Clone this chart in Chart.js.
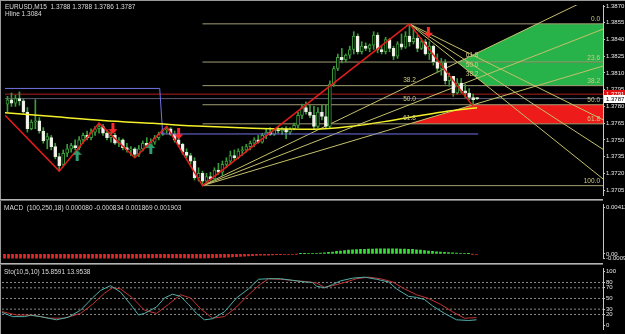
<!DOCTYPE html>
<html>
<head>
<meta charset="utf-8">
<script src="https://cdn.jsdelivr.net/npm/chart.js@4.4.0/dist/chart.umd.min.js"></script>
<style>
  body { margin: 0; background: #000; width: 625px; height: 334px; overflow: hidden; position: relative; }
  .pane { position: absolute; left: 0; width: 625px; }
  .txt { position: absolute; color: #dcdcdc; font: 6.5px "Liberation Sans", Arial, sans-serif; white-space: pre; }
  .sep { position: absolute; left: 0; width: 603px; height: 1px; }
</style>
</head>
<body>
<div class="pane" style="top:0;height:200px"><canvas id="price"></canvas></div>
<div class="pane" style="top:200px;height:63px"><canvas id="macd"></canvas></div>
<div class="pane" style="top:264px;height:70px"><canvas id="stoch"></canvas></div>

<div class="sep" style="top:0;width:625px;background:#9a9a9a"></div>
<div style="position:absolute;left:0;top:0;width:1px;height:334px;background:#9a9a9a"></div>
<div class="sep" style="top:199px;background:#b4b4b4"></div>
<div class="sep" style="top:200px;background:#6e6e6e"></div>
<div class="sep" style="top:263px;background:#b4b4b4"></div>
<div class="sep" style="top:264px;background:#6e6e6e"></div>

<div class="txt" style="left:5px;top:3px">EURUSD,M15  1.3788 1.3788 1.3786 1.3787</div>
<div class="txt" style="left:5px;top:10px">Hline 1.3084</div>
<div class="txt" style="left:4px;top:204px">MACD  (100,250,18) 0.000080 -0.000834 0.001869 0.001903</div>
<div class="txt" style="left:4px;top:268px">Sto(10,5,10) 15.8591 13.9538</div>

<script>
// ---- price pane data (M15 candles, oldest first) ----
const priceTicks = [1.3870, 1.3855, 1.3840, 1.3825, 1.3810, 1.3795, 1.3780, 1.3765, 1.3750, 1.3735, 1.3720, 1.3705];

const opens = [
  1.3782,1.3786,1.3783,1.3787,1.3785,1.3775,1.3760,1.3766,1.3767,1.3758,
  1.3750,1.3752,1.3744,1.3735,1.3728,1.3738,1.3742,1.3745,1.3743,1.3750,
  1.3754,1.3752,1.3757,1.3760,1.3762,1.3756,1.3752,1.3754,1.3747,1.3750,
  1.3743,1.3741,1.3742,1.3737,1.3742,1.3747,1.3745,1.3748,1.3752,1.3755,
  1.3759,1.3760,1.3755,1.3750,1.3746,1.3739,1.3736,1.3731,1.3716,1.3720,
  1.3713,1.3717,1.3715,1.3723,1.3721,1.3728,1.3731,1.3736,1.3734,1.3740,
  1.3741,1.3744,1.3747,1.3750,1.3748,1.3754,1.3757,1.3755,1.3759,1.3758,
  1.3760,1.3757,1.3760,1.3763,1.3772,1.3779,1.3775,1.3772,1.3762,1.3775,
  1.3771,1.3762,1.3800,1.3814,1.3824,1.3822,1.3826,1.3831,1.3843,1.3829,
  1.3834,1.3832,1.3835,1.3844,1.3831,1.3829,1.3840,1.3832,1.3825,1.3836,
  1.3833,1.3843,1.3838,1.3841,1.3832,1.3838,1.3827,1.3834,1.3820,1.3814,
  1.3819,1.3803,1.3807,1.3792,1.3801,1.3794,1.3792,1.3788,1.3788
];
const highs = [
  1.3789,1.3792,1.3790,1.3793,1.3787,1.3779,1.3768,1.3786,1.3770,1.3761,
  1.3756,1.3754,1.3747,1.3738,1.3741,1.3746,1.3747,1.3750,1.3753,1.3756,
  1.3758,1.3760,1.3762,1.3765,1.3764,1.3759,1.3757,1.3756,1.3752,1.3751,
  1.3747,1.3744,1.3743,1.3745,1.3749,1.3752,1.3751,1.3754,1.3757,1.3760,
  1.3762,1.3761,1.3758,1.3754,1.3747,1.3742,1.3738,1.3734,1.3725,1.3722,
  1.3720,1.3721,1.3725,1.3729,1.3731,1.3734,1.3740,1.3741,1.3742,1.3744,
  1.3746,1.3749,1.3752,1.3754,1.3756,1.3760,1.3761,1.3760,1.3762,1.3761,
  1.3762,1.3761,1.3765,1.3775,1.3782,1.3784,1.3781,1.3780,1.3779,1.3781,
  1.3781,1.3803,1.3816,1.3827,1.3832,1.3827,1.3834,1.3847,1.3845,1.3838,
  1.3837,1.3836,1.3847,1.3846,1.3834,1.3842,1.3841,1.3834,1.3838,1.3845,
  1.3847,1.3854,1.3849,1.3844,1.3841,1.3840,1.3838,1.3835,1.3827,1.3823,
  1.3822,1.3810,1.3807,1.3805,1.3805,1.3800,1.3796,1.3791,1.3788
];
const lows = [
  1.3775,1.3780,1.3780,1.3781,1.3774,1.3757,1.3759,1.3760,1.3756,1.3747,
  1.3742,1.3741,1.3733,1.3722,1.3727,1.3735,1.3739,1.3741,1.3741,1.3747,
  1.3750,1.3750,1.3754,1.3756,1.3754,1.3750,1.3748,1.3746,1.3744,1.3741,
  1.3739,1.3736,1.3734,1.3735,1.3740,1.3743,1.3742,1.3746,1.3750,1.3754,
  1.3756,1.3754,1.3748,1.3744,1.3737,1.3734,1.3728,1.3714,1.3713,1.3709,
  1.3711,1.3714,1.3714,1.3719,1.3718,1.3725,1.3728,1.3732,1.3733,1.3736,
  1.3739,1.3741,1.3744,1.3747,1.3747,1.3751,1.3754,1.3754,1.3756,1.3755,
  1.3751,1.3755,1.3759,1.3761,1.3769,1.3773,1.3770,1.3760,1.3761,1.3768,
  1.3760,1.3760,1.3798,1.3812,1.3819,1.3820,1.3823,1.3827,1.3827,1.3827,
  1.3830,1.3829,1.3831,1.3828,1.3827,1.3827,1.3829,1.3822,1.3823,1.3831,
  1.3832,1.3834,1.3836,1.3829,1.3831,1.3826,1.3822,1.3817,1.3810,1.3808,
  1.3800,1.3798,1.3789,1.3791,1.3792,1.3788,1.3786,1.3780,1.3786
];
const closes = [
  1.3786,1.3783,1.3787,1.3785,1.3775,1.3760,1.3766,1.3767,1.3758,1.3749,
  1.3753,1.3744,1.3735,1.3727,1.3738,1.3742,1.3745,1.3743,1.3750,1.3754,
  1.3752,1.3757,1.3760,1.3762,1.3756,1.3752,1.3754,1.3747,1.3750,1.3743,
  1.3741,1.3742,1.3737,1.3742,1.3747,1.3745,1.3748,1.3752,1.3755,1.3759,
  1.3760,1.3755,1.3750,1.3746,1.3739,1.3736,1.3731,1.3716,1.3720,1.3713,
  1.3717,1.3715,1.3723,1.3721,1.3728,1.3731,1.3736,1.3734,1.3740,1.3741,
  1.3744,1.3747,1.3750,1.3748,1.3754,1.3757,1.3755,1.3759,1.3758,1.3760,
  1.3757,1.3760,1.3763,1.3772,1.3779,1.3775,1.3772,1.3762,1.3775,1.3771,
  1.3762,1.3800,1.3814,1.3824,1.3822,1.3826,1.3831,1.3843,1.3829,1.3834,
  1.3832,1.3835,1.3844,1.3831,1.3829,1.3840,1.3832,1.3825,1.3836,1.3833,
  1.3843,1.3838,1.3841,1.3832,1.3838,1.3827,1.3834,1.3820,1.3814,1.3819,
  1.3803,1.3807,1.3792,1.3801,1.3794,1.3792,1.3788,1.3786,1.3787
];

// zigzag turning points [bar, price]
const zigzag = [[-0.6, 1.3772], [13, 1.3722], [23, 1.3765], [32, 1.3734], [40, 1.3762], [49, 1.3709], [101, 1.3854], [117, 1.3780]];
// slow moving average, sampled
const maLine = [[-1, 1.37744], [11.5, 1.37709], [24, 1.37674], [36.5, 1.37648], [49, 1.37622], [61.5, 1.37605],
  [77, 1.37596], [86.5, 1.37622], [96.5, 1.37674], [109.75, 1.37753], [118, 1.37787]];
// blue step line
const blueLine = [[-0.625, 1.37961], [38.25, 1.37961], [39, 1.37553], [118.25, 1.37553]];
const redHline = 1.3791;
const bidPrice = 1.3787;

// fibonacci anchors [bar, price]
const fibLow = [49, 1.3709];
const fibHigh = [101, 1.3854];
const fibEnd = [117, 1.3780];
const fibLevels = [0, 23.6, 38.2, 50, 61.8, 100];
const fanLevels = [38.2, 50, 61.8];

// signal arrows [bar, price]
const sellArrows = [[26.5, 1.3760], [43, 1.37553], [105.75, 1.38465]];
const buyArrows = [[17.5, 1.37362], [36, 1.37422]];

// ---- MACD pane ----
const macdHist = [
  -0.00046,-0.00046,-0.00045,-0.00045,-0.00046,-0.00047,-0.00047,-0.00046,-0.00046,-0.00046,
  -0.00047,-0.00047,-0.00048,-0.00048,-0.00047,-0.00046,-0.00045,-0.00045,-0.00044,-0.00043,
  -0.00042,-0.00041,-0.00041,-0.00041,-0.00041,-0.00041,-0.00041,-0.00042,-0.00042,-0.00042,
  -0.00042,-0.00042,-0.00042,-0.00041,-0.00040,-0.00039,-0.00038,-0.00037,-0.00036,-0.00036,
  -0.00036,-0.00036,-0.00037,-0.00037,-0.00038,-0.00038,-0.00039,-0.00040,-0.00040,-0.00040,
  -0.00039,-0.00038,-0.00036,-0.00034,-0.00032,-0.00030,-0.00028,-0.00026,-0.00024,-0.00022,
  -0.00020,-0.00018,-0.00016,-0.00014,-0.00012,-0.00011,-0.00010,-0.00008,-0.00007,-0.00006,
  -0.00005,-0.00004,-0.00003,-0.00002,0.00002,0.00003,0.00004,0.00005,0.00006,0.00008,
  0.00010,0.00013,0.00017,0.00022,0.00026,0.00030,0.00033,0.00036,0.00038,0.00040,
  0.00041,0.00042,0.00043,0.00044,0.00045,0.00045,0.00045,0.00045,0.00044,0.00043,
  0.00042,0.00041,0.00040,0.00037,0.00034,0.00030,0.00026,0.00022,0.00019,0.00016,
  0.00013,0.00011,0.00009,0.00007,0.00005,0.00004,0.00002,-0.00002,-0.00003
];
const macdTicks = [0.00412, 0, -0.000396];
const macdTickLabels = ['0.00412', '0.00', '-0.00094'];

// ---- Stochastic pane [bar, value] ----
const stochMain = [[-1,25],[2,16],[5,16],[6.5,18.5],[9,16],[13,10],[16,15],[19,28],[22,51],[24,65],[26.5,74],[29,62],
  [31.5,39],[33.5,19],[35,22],[38,34],[40,51],[42,58],[44,54],[46,39],[48,22],[50,10],[52,12],[55,25],[58,51],[61,68],
  [63.5,86],[66,87],[69,87],[72,84],[75,81],[77,80],[78,73],[80,70],[82,76],[84,83],[87,88],[90,90],[93,86],[96,81],
  [98,68],[101,54],[103,52],[105,48],[107,36],[110,22],[113,10],[116,8.7],[118,10]];
const stochSignal = [[-1,26],[3,19],[7,19],[11,13],[15,13],[19,22],[22,39],[25,60],[27,70],[29,68],[32,51],[35,28],
  [38,22],[41,39],[44,57],[46.5,51],[49,31],[52,13],[55,16],[58,34],[61,57],[64,77],[66,87],[69,86],[72,84],[76,81],
  [78,79],[80,71],[82,74],[85,80],[88,87],[91,90],[94,87],[97,81],[100,68],[103,57],[106,50],[109,39],[112,25],
  [115,13],[118,14]];
const stochLevels = [80, 70, 50, 30, 20];
const stochTicks = [100, 80, 70, 50, 30, 20, 0];

// ---- style ----
const FONT = '"Liberation Sans", Arial, sans-serif';
const axisText = '#e6e6e6';
const axisLine = '#c8c8c8';
const wickColor = '#3c9c3c';
const levelColor = '#a29e74';
const fanColor = '#c4c06a';
const labelColor = '#cfcb80';

Chart.defaults.font.family = FONT;
Chart.defaults.font.size = 6;
Chart.defaults.animation = false;
Chart.defaults.events = [];
Chart.defaults.plugins.legend.display = false;
Chart.defaults.plugins.tooltip.enabled = false;

const xMin = -0.625;
const xMax = 149.625;
const xAxis = { type: 'linear', min: xMin, max: xMax, display: false, offset: false };

function rightAxis(min, max, values, fmt) {
  return {
    position: 'right', min, max,
    afterBuildTicks: (s) => { s.ticks = values.map((v) => ({ value: v })); },
    afterFit: (s) => { s.width = 22; },
    ticks: { color: axisText, padding: 1, autoSkip: false, callback: fmt, font: { size: 6 } },
    grid: { drawOnChartArea: false, color: axisLine, tickLength: 2 },
    border: { color: axisLine },
  };
}

const pt = (p) => ({ x: p[0], y: p[1] });
const idx = opens.map((_, i) => i);

// fibonacci geometry from the anchors
const range = fibHigh[1] - fibLow[1];
const levelPrices = fibLevels.map((l) => fibHigh[1] - l / 100 * range);
const lowFanMid = fanLevels.map((l) => fibHigh[1] - l / 100 * range);
const peakFanMid = fanLevels.map((l) => fibEnd[1] + l / 100 * (fibHigh[1] - fibEnd[1]));
const lowFans = lowFanMid.map((p) => [fibLow, [fibHigh[0], p]]);
const peakFans = peakFanMid.map((p) => [fibHigh, [fibEnd[0], p]]);

const extend = (ln) => {
  const [a, b] = ln;
  const k = (b[1] - a[1]) / (b[0] - a[0]);
  return [pt(a), { x: xMax, y: a[1] + (xMax - a[0]) * k }];
};
const atPrice = (ln, price) => {
  const [a, b] = ln;
  return { x: a[0] + (price - a[1]) * (b[0] - a[0]) / (b[1] - a[1]), y: price };
};
const cross = (l1, l2) => {
  const k1 = (l1[1][1] - l1[0][1]) / (l1[1][0] - l1[0][0]);
  const k2 = (l2[1][1] - l2[0][1]) / (l2[1][0] - l2[0][0]);
  const x = (l2[0][1] - l1[0][1] + k1 * l1[0][0] - k2 * l2[0][0]) / (k1 - k2);
  return { x, y: l1[0][1] + k1 * (x - l1[0][0]) };
};

// green zone: between the two 38.2 fans, inside 0 .. 38.2 retracement
const gTip = cross(lowFans[0], peakFans[0]);
const greenTop = [gTip, atPrice(lowFans[0], levelPrices[0]), { x: xMax, y: levelPrices[0] }];
const greenBottom = [gTip, atPrice(peakFans[0], levelPrices[2]), { x: xMax, y: levelPrices[2] }];
// red zone: under the 61.8 fan, between 50 and 61.8 retracement
const redZone = [{ x: fibHigh[0], y: levelPrices[4] }, atPrice(lowFans[2], levelPrices[3]), { x: xMax, y: levelPrices[3] }];

function arrowImage(color) {
  const c = document.createElement('canvas');
  c.width = 9; c.height = 11;
  const g = c.getContext('2d');
  g.fillStyle = color;
  g.beginPath();
  g.moveTo(4.5, 0); g.lineTo(9, 5); g.lineTo(6, 5); g.lineTo(6, 11);
  g.lineTo(3, 11); g.lineTo(3, 5); g.lineTo(0, 5); g.closePath();
  g.fill();
  return c;
}

const plainLine = (data, color, width, order, extra) => Object.assign({
  type: 'line', data, borderColor: color, borderWidth: width, pointRadius: 0, fill: false, order,
}, extra || {});

const priceLabels = {
  id: 'priceLabels',
  afterDatasetsDraw(chart) {
    const { ctx, chartArea, scales: { x, y } } = chart;
    ctx.save();
    ctx.font = '6.5px ' + FONT;
    ctx.fillStyle = labelColor;
    ctx.textBaseline = 'bottom';
    ctx.textAlign = 'right';
    fibLevels.forEach((l, k) => {
      ctx.fillText(l.toFixed(1), chartArea.right - 3, y.getPixelForValue(levelPrices[k]) - 1);
    });
    ctx.textAlign = 'center';
    fanLevels.forEach((l, k) => {
      ctx.fillText(l.toFixed(1), x.getPixelForValue(fibHigh[0]), y.getPixelForValue(lowFanMid[k]) - 2);
      ctx.fillText(l.toFixed(1), x.getPixelForValue(fibEnd[0]) - 1, y.getPixelForValue(peakFanMid[k]) + 3);
    });
    // price tags on the axis
    ctx.font = '6px ' + FONT;
    const tag = (price, bg, fg) => {
      const py = Math.round(y.getPixelForValue(price));
      ctx.fillStyle = bg;
      ctx.fillRect(chartArea.right + 1, py - 4, 22, 8);
      ctx.fillStyle = fg;
      ctx.textAlign = 'left';
      ctx.textBaseline = 'middle';
      ctx.fillText(price.toFixed(4), chartArea.right + 3, py + 0.5);
    };
    tag(redHline, '#e01010', '#ffffff');
    tag(bidPrice, '#ffffff', '#000000');
    ctx.restore();
  },
};

new Chart(document.getElementById('price'), {
  type: 'bar',
  data: {
    datasets: [
      Object.assign(plainLine(sellArrows.map(pt), '#ff2a2a', 0, -3), {
        showLine: false, pointRadius: 5, pointStyle: arrowImage('#ff2a2a'), pointRotation: 180,
      }),
      Object.assign(plainLine(buyArrows.map(pt), '#2e9e6e', 0, -3), {
        showLine: false, pointRadius: 5, pointStyle: arrowImage('#2e9e6e'),
      }),
      plainLine(zigzag.map(pt), '#e41c1c', 1.5, -2),
      plainLine(maLine.map(pt), '#f4f02a', 1.5, -2, { tension: 0.4, cubicInterpolationMode: 'monotone' }),
      plainLine(blueLine.map(pt), '#7272e6', 1, -1),
      {
        type: 'bar', order: 0, grouped: false, barThickness: 3, minBarLength: 1,
        borderWidth: 1, borderSkipped: false,
        data: idx.map((i) => ({ x: i, y: [opens[i], closes[i]] })),
        backgroundColor: idx.map((i) => (closes[i] >= opens[i] ? '#000000' : '#f4f4f0')),
        borderColor: idx.map((i) => (closes[i] >= opens[i] ? wickColor : '#e8ece0')),
      },
      {
        type: 'bar', order: 1, grouped: false, barThickness: 1,
        data: idx.map((i) => ({ x: i, y: [lows[i], highs[i]] })),
        backgroundColor: wickColor,
      },
      ...lowFans.map((ln) => plainLine(extend(ln), fanColor, 1, 4)),
      ...peakFans.map((ln) => plainLine(extend(ln), fanColor, 1, 4)),
      ...levelPrices.map((p) => plainLine([{ x: fibLow[0], y: p }, { x: xMax, y: p }], levelColor, 1, 5)),
      plainLine([{ x: xMin, y: redHline }, { x: xMax, y: redHline }], '#b01e1e', 1, 5),
      plainLine([{ x: xMin, y: bidPrice }, { x: xMax, y: bidPrice }], '#5c5c7a', 1, 5),
      plainLine(greenTop, 'rgba(0,0,0,0)', 0, 8, { fill: { value: gTip.y }, backgroundColor: '#27b34a' }),
      plainLine(greenBottom, 'rgba(0,0,0,0)', 0, 8, { fill: { value: gTip.y }, backgroundColor: '#27b34a' }),
      plainLine(redZone, 'rgba(0,0,0,0)', 0, 8, { fill: { value: levelPrices[4] }, backgroundColor: '#ee1b1b' }),
    ],
  },
  options: {
    responsive: true,
    maintainAspectRatio: false,
    layout: { padding: { left: 2, top: 2, bottom: 2, right: 0 } },
    scales: {
      x: xAxis,
      y: rightAxis(1.37006, 1.38709, priceTicks, (v) => Number(v).toFixed(4)),
    },
  },
  plugins: [priceLabels],
});

new Chart(document.getElementById('macd'), {
  type: 'bar',
  data: {
    datasets: [{
      grouped: false, barThickness: 2,
      data: macdHist.map((v, i) => ({ x: i, y: v })),
      backgroundColor: macdHist.map((v) => (v >= 0 ? '#3ae03a' : '#e22a2a')),
    }],
  },
  options: {
    responsive: true,
    maintainAspectRatio: false,
    layout: { padding: { left: 2, top: 2, bottom: 1, right: 0 } },
    scales: {
      x: xAxis,
      y: rightAxis(-0.000396, 0.004356, macdTicks, (v, i) => macdTickLabels[i]),
    },
  },
});

new Chart(document.getElementById('stoch'), {
  type: 'line',
  data: {
    datasets: [
      plainLine(stochMain.map(pt), '#4fb0a8', 1, 0),
      plainLine(stochSignal.map(pt), '#c43232', 1, 1),
      ...stochLevels.map((v) => plainLine([{ x: xMin, y: v }, { x: xMax, y: v }], '#8a8a8a', 1, 3, { borderDash: [2, 2] })),
    ],
  },
  options: {
    responsive: true,
    maintainAspectRatio: false,
    layout: { padding: { left: 2, top: 1, bottom: 2, right: 0 } },
    scales: {
      x: xAxis,
      y: rightAxis(-8, 106, stochTicks, (v) => String(v)),
    },
  },
});
</script>
</body>
</html>
